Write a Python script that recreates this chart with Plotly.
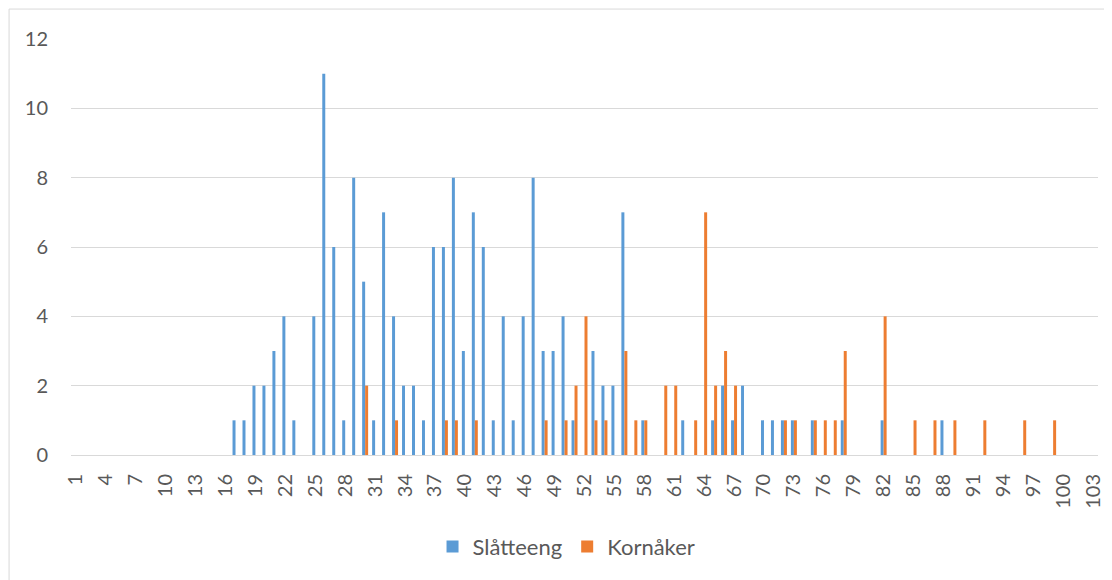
import plotly.graph_objects as go

categories = list(range(1, 104))

slatteeng = {
    17: 1, 18: 1, 19: 2, 20: 2, 21: 3, 22: 4, 23: 1, 25: 4, 26: 11, 27: 6, 28: 1,
    29: 8, 30: 5, 31: 1, 32: 7, 33: 4, 34: 2, 35: 2, 36: 1, 37: 6, 38: 6, 39: 8,
    40: 3, 41: 7, 42: 6, 43: 1, 44: 4, 45: 1, 46: 4, 47: 8, 48: 3, 49: 3, 50: 4,
    51: 1, 53: 3, 54: 2, 55: 2, 56: 7, 58: 1, 62: 1, 65: 1, 66: 2, 67: 1, 68: 2,
    70: 1, 71: 1, 72: 1, 73: 1, 75: 1, 78: 1, 82: 1, 88: 1,
}
kornaker = {
    30: 2, 33: 1, 38: 1, 39: 1, 41: 1, 48: 1, 50: 1, 51: 2, 52: 4, 53: 1, 54: 1,
    56: 3, 57: 1, 58: 1, 60: 2, 61: 2, 63: 1, 64: 7, 65: 2, 66: 3, 67: 2, 72: 1,
    73: 1, 75: 1, 76: 1, 77: 1, 78: 3, 82: 4, 85: 1, 87: 1, 89: 1, 92: 1, 96: 1,
    99: 1,
}
tick_labels = list(range(1, 104, 3))

slatteeng_vals = [slatteeng.get(c, 0) for c in categories]
kornaker_vals = [kornaker.get(c, 0) for c in categories]

FONT = "Lato"
TXT = "#595959"

fig = go.Figure()
fig.add_trace(go.Bar(x=categories, y=slatteeng_vals, name="Slåtteeng",
                     marker=dict(color="#5B9BD5", line=dict(width=0))))
fig.add_trace(go.Bar(x=categories, y=kornaker_vals, name="Kornåker",
                     marker=dict(color="#ED7D31", line=dict(width=0))))

fig.update_layout(
    width=1104, height=572,
    margin=dict(l=63, r=14, t=31, b=125, autoexpand=False),
    paper_bgcolor="white", plot_bgcolor="white",
    barmode="group", bargap=0.4, bargroupgap=0,
    font=dict(family=FONT, color=TXT, size=20),
    showlegend=True,
    legend=dict(orientation="h", x=0.4825, xanchor="center", y=-0.17, yanchor="top",
                font=dict(size=22, color=TXT), itemwidth=30, traceorder="normal",
                itemsizing="constant"),
    shapes=[dict(type="rect", xref="paper", yref="paper",
                 x0=-0.0603, x1=1.2, y0=-0.5, y1=1.072,
                 line=dict(color="#D9D9D9", width=1), fillcolor="rgba(0,0,0,0)",
                 layer="below")],
)
fig.update_xaxes(
    range=[0.5, 103.5], tickmode="array", tickvals=tick_labels,
    ticktext=[str(t) for t in tick_labels], tickangle=-90,
    showgrid=False, showline=True, linecolor="#D9D9D9", linewidth=1,
    ticks="", tickfont=dict(size=20, color=TXT), ticklabelstandoff=10,
    zeroline=False, automargin=False,
)
fig.update_yaxes(
    range=[0, 12], dtick=2, showgrid=True, gridcolor="#D9D9D9", gridwidth=1,
    zeroline=False, showline=False, ticks="",
    tickfont=dict(size=20, color=TXT), ticklabelstandoff=22, automargin=False,
)

fig.write_html("out.html")
